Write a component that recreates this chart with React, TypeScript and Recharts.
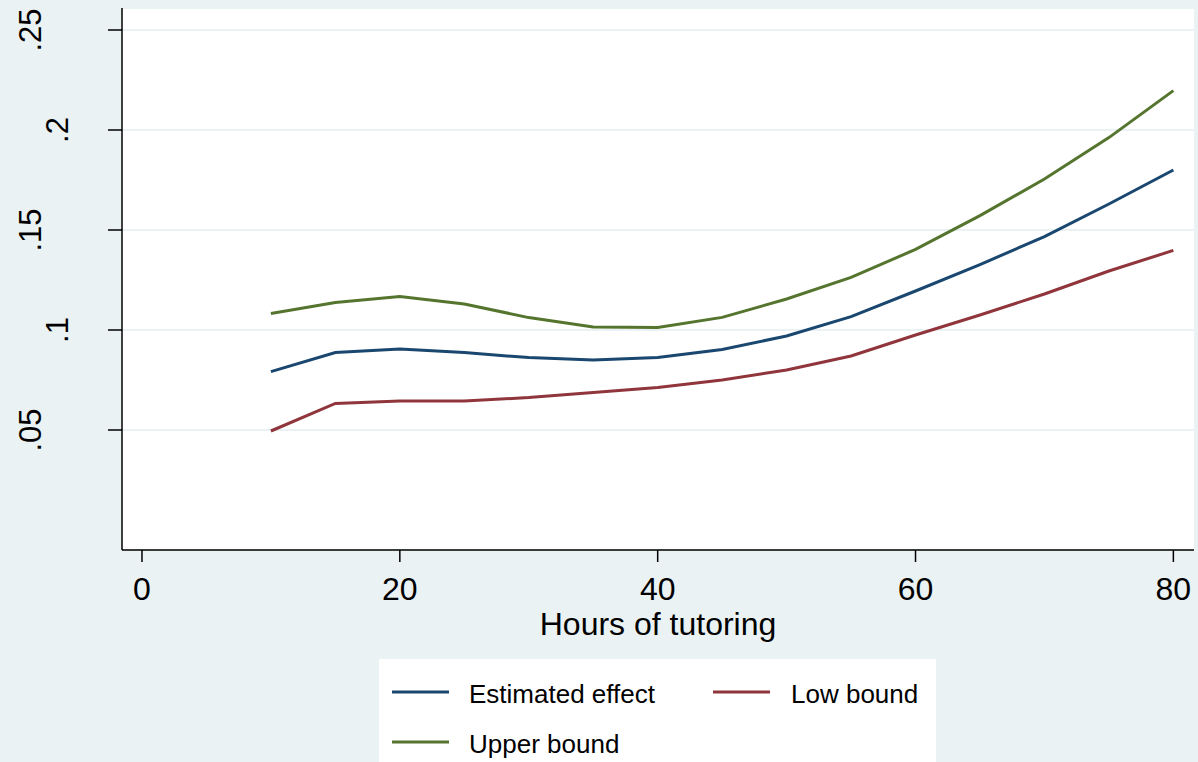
import React from 'react';
import { LineChart, Line, XAxis, YAxis, CartesianGrid, Legend } from 'recharts';

const hours = [10, 15, 20, 25, 30, 35, 40, 45, 50, 55, 60, 65, 70, 75, 80];
const estimated = [0.0792, 0.0887, 0.0905, 0.0887, 0.0862, 0.085, 0.0862, 0.0903, 0.097, 0.1067, 0.1195, 0.1327, 0.1467, 0.163, 0.18];
const lowBound = [0.0495, 0.0633, 0.0645, 0.0645, 0.0662, 0.0687, 0.0713, 0.075, 0.08, 0.087, 0.0975, 0.1075, 0.118, 0.1295, 0.1398];
const upperBound = [0.1083, 0.1138, 0.1167, 0.113, 0.1062, 0.1015, 0.1012, 0.1063, 0.1155, 0.1263, 0.1403, 0.1572, 0.1755, 0.1962, 0.2197];

const xTicks = [0, 20, 40, 60, 80];
const yTicks = [0.05, 0.1, 0.15, 0.2, 0.25];
const yTickLabels = ['.05', '.1', '.15', '.2', '.25'];

const FONT = '"Liberation Sans", Arial, Helvetica, sans-serif';
const BG = '#eaf2f3';

const series = [
  { key: 'estimated', name: 'Estimated effect', color: '#1a476f' },
  { key: 'low', name: 'Low bound', color: '#90353b' },
  { key: 'upper', name: 'Upper bound', color: '#55752f' },
];

const data = hours.map((h, i) => ({
  hours: h,
  estimated: estimated[i],
  low: lowBound[i],
  upper: upperBound[i],
}));

// stata puts the rotated labels at different distances depending on length
const YTick = (props: any) => {
  const { y, payload } = props;
  const idx = yTicks.indexOf(payload.value);
  const label = idx >= 0 ? yTickLabels[idx] : String(payload.value);
  const bx = label.length > 2 ? 41 : 68;
  return (
    <text
      x={bx}
      y={y}
      transform={`rotate(-90, ${bx}, ${y})`}
      textAnchor="middle"
      fontSize={31}
      fontFamily={FONT}
      fill="#000"
    >
      {label}
    </text>
  );
};

const LegendBox = () => {
  const pos = [
    { lx: 13, tx: 90, y: 33 },
    { lx: 334, tx: 412, y: 33 },
    { lx: 13, tx: 90, y: 83 },
  ];
  return (
    <svg width={557} height={103} style={{ display: 'block' }}>
      <rect x={0} y={0} width={557} height={103} fill="#fff" />
      {series.map((s, i) => (
        <g key={s.key}>
          <line x1={pos[i].lx} x2={pos[i].lx + 57} y1={pos[i].y} y2={pos[i].y} stroke={s.color} strokeWidth={3} />
          <text x={pos[i].tx} y={pos[i].y + 11} fontSize={26} fontFamily={FONT} fill="#000">
            {s.name}
          </text>
        </g>
      ))}
    </svg>
  );
};

export default function App() {
  return (
    <div style={{ position: 'absolute', left: 0, top: 0, width: 1198, height: 762, background: BG }}>
      <LineChart width={1198} height={762} data={data} margin={{ top: 8, right: 4, left: 0, bottom: 122 }}>
        <CartesianGrid horizontal vertical={false} fill="#fff" stroke={BG} strokeWidth={2} />
        <XAxis
          dataKey="hours"
          type="number"
          domain={[-1.55, 81.6]}
          ticks={xTicks}
          allowDataOverflow
          height={90}
          tickSize={12}
          tickMargin={15}
          axisLine={{ stroke: '#000', strokeWidth: 1.5 }}
          tickLine={{ stroke: '#000', strokeWidth: 1.5 }}
          tick={{ fill: '#000', fontSize: 32, fontFamily: FONT }}
          label={{ value: 'Hours of tutoring', position: 'insideBottom', offset: 5, fill: '#000', fontSize: 32, fontFamily: FONT }}
        />
        <YAxis
          type="number"
          domain={[-0.01, 0.261]}
          ticks={yTicks}
          allowDataOverflow
          width={122}
          tickSize={14}
          axisLine={{ stroke: '#000', strokeWidth: 1.5 }}
          tickLine={{ stroke: '#000', strokeWidth: 1.5 }}
          tick={<YTick />}
        />
        <Legend
          layout="horizontal"
          align="center"
          verticalAlign="middle"
          content={<LegendBox />}
          wrapperStyle={{ left: 379, top: 659, width: 557, height: 103 }}
        />
        {series.map(s => (
          <Line
            key={s.key}
            type="linear"
            dataKey={s.key}
            name={s.name}
            stroke={s.color}
            strokeWidth={3}
            dot={false}
            isAnimationActive={false}
          />
        ))}
      </LineChart>
    </div>
  );
}
